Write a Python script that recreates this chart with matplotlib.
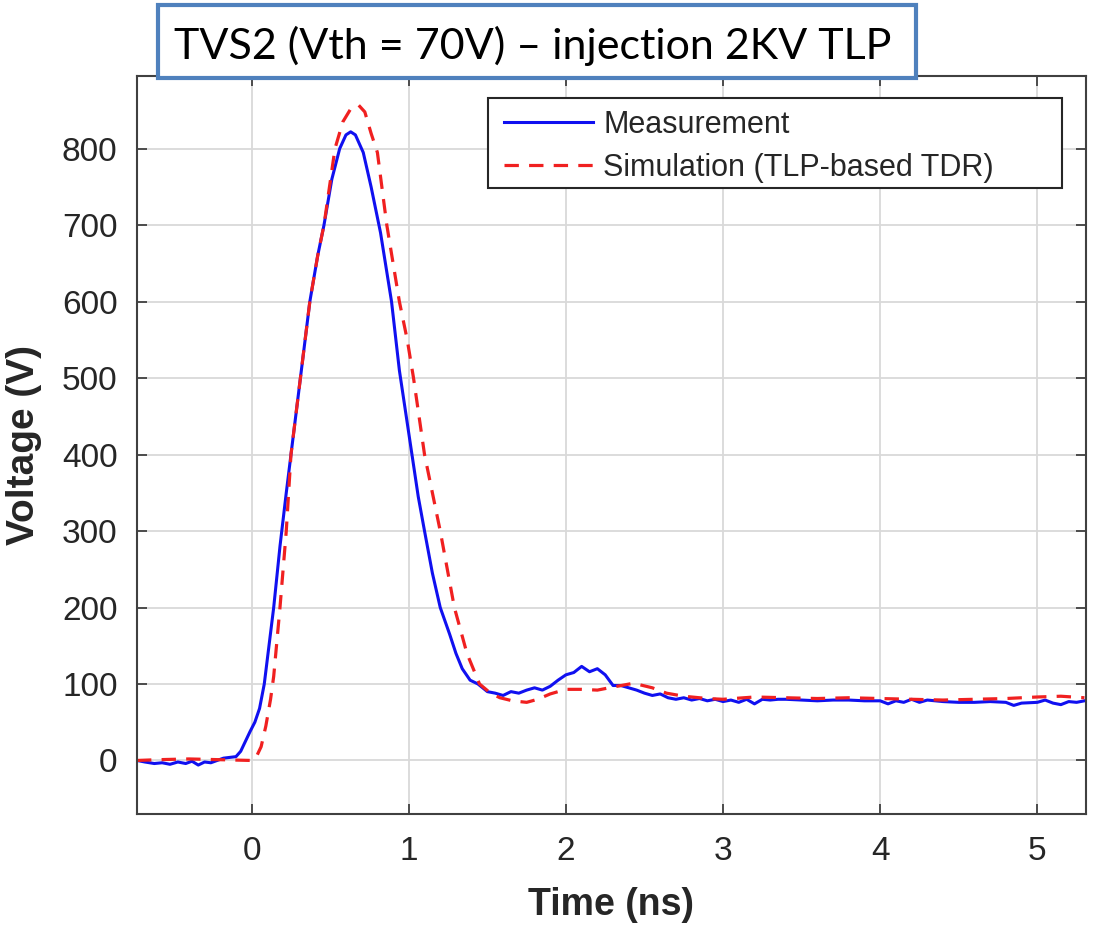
import matplotlib
matplotlib.use("Agg")
import matplotlib.pyplot as plt
from matplotlib.patches import Rectangle

# Measurement (blue, solid)
meas_t = [-0.73, -0.68, -0.62, -0.57, -0.52, -0.47, -0.42, -0.38, -0.34, -0.30,
          -0.26, -0.22, -0.18, -0.14, -0.10, -0.07, -0.04, -0.01, 0.02, 0.05,
          0.08, 0.11, 0.14, 0.18, 0.22, 0.25, 0.31, 0.37, 0.42, 0.46,
          0.51, 0.56, 0.60, 0.63, 0.66, 0.71, 0.76, 0.82, 0.89, 0.94,
          0.98, 1.02, 1.06, 1.10, 1.15, 1.20, 1.26, 1.30, 1.34, 1.39,
          1.44, 1.50, 1.55, 1.60, 1.65, 1.70, 1.75, 1.80, 1.85, 1.90,
          1.95, 2.00, 2.05, 2.10, 2.15, 2.20, 2.25, 2.30, 2.35, 2.40,
          2.45, 2.50, 2.55, 2.60, 2.65, 2.70, 2.75, 2.80, 2.85, 2.90,
          2.95, 3.00, 3.05, 3.10, 3.15, 3.20, 3.25, 3.30, 3.35, 3.40,
          3.50, 3.60, 3.70, 3.80, 3.90, 4.00, 4.05, 4.10, 4.15, 4.20,
          4.25, 4.30, 4.40, 4.50, 4.60, 4.70, 4.80, 4.85, 4.90, 5.00,
          5.05, 5.10, 5.15, 5.20, 5.25, 5.30]
meas_v = [0, -2, -4, -3, -5, -2, -4, -1, -6, -2,
          -3, 0, 3, 4, 5, 12, 25, 38, 50, 68,
          100, 150, 200, 280, 350, 400, 500, 600, 660, 700,
          760, 800, 818, 822, 818, 795, 750, 690, 600, 510,
          455, 400, 345, 300, 245, 200, 165, 140, 120, 105,
          100, 90, 88, 85, 90, 88, 92, 95, 92, 97,
          105, 112, 115, 123, 116, 120, 112, 98, 98, 95,
          92, 88, 85, 87, 82, 80, 82, 79, 81, 78,
          80, 77, 79, 76, 80, 74, 80, 79, 80, 80,
          79, 78, 79, 79, 78, 78, 74, 78, 76, 80,
          76, 79, 77, 76, 76, 77, 76, 72, 75, 76,
          79, 75, 73, 77, 76, 78]

# Simulation (red, dashed)
sim_t = [-0.73, -0.6, -0.4, -0.2, 0.0, 0.03, 0.06, 0.09, 0.12, 0.14,
         0.18, 0.22, 0.25, 0.31, 0.37, 0.42, 0.46, 0.53, 0.58, 0.63,
         0.68, 0.72, 0.76, 0.80, 0.86, 0.94, 0.99, 1.03, 1.10, 1.20,
         1.29, 1.37, 1.45, 1.52, 1.58, 1.66, 1.75, 1.82, 1.90, 2.00,
         2.10, 2.20, 2.30, 2.43, 2.55, 2.64, 2.75, 2.90, 3.0, 3.2,
         3.4, 3.6, 3.8, 4.0, 4.2, 4.4, 4.6, 4.8, 5.0, 5.15, 5.3]
sim_v = [0, 1, 2, 1, 0, 5, 18, 45, 80, 110,
         200, 300, 400, 500, 600, 660, 700, 800, 835, 852,
         857, 848, 820, 795, 700, 600, 550, 500, 400, 300,
         200, 140, 100, 88, 82, 78, 76, 80, 87, 93,
         93, 92, 96, 101, 95, 88, 84, 81, 80, 83,
         82, 81, 82, 81, 80, 79, 80, 81, 83, 84, 82]

xticks = [0, 1, 2, 3, 4, 5]
yticks = [0, 100, 200, 300, 400, 500, 600, 700, 800]

txt = '#262626'
plt.rcParams['font.family'] = ['Liberation Sans', 'DejaVu Sans']

fig = plt.figure(figsize=(10.93, 9.26), dpi=100)
ax = fig.add_axes([137/1093, 1-814/926, (1086-137)/1093, (814-76)/926])

ax.plot(meas_t, meas_v, color='#1010F0', lw=2.2, label='Measurement')
ax.plot(sim_t, sim_v, color='#F02020', lw=2.3, ls=(0, (4.5, 3.2)),
        label='Simulation (TLP-based TDR)')

ax.set_xlim(-0.73, 5.31)
ax.set_ylim(-70, 895)
ax.set_xticks(xticks)
ax.set_yticks(yticks)
ax.grid(True, color='#d9d9d9', lw=1.3)
ax.set_axisbelow(True)
ax.tick_params(direction='in', length=7, width=1.3, colors='#404040',
               labelcolor=txt, labelsize=24, top=True, right=True)
ax.tick_params(axis='x', pad=16)
ax.tick_params(axis='y', pad=14)
for s in ax.spines.values():
    s.set_color('#404040')
    s.set_linewidth(1.5)

ax.set_xlabel('Time (ns)', fontsize=27, fontweight='bold', color=txt, labelpad=14)
ax.set_ylabel('Voltage (V)', fontsize=28, fontweight='bold', color=txt, labelpad=14)

# legend: MATLAB style box with extra room on the right
ax.add_patch(Rectangle((488/1093, 1-188/926), 574/1093, 90/926,
                       transform=fig.transFigure, facecolor='white',
                       edgecolor='#262626', lw=1.5, zorder=4))
leg = ax.legend(loc='upper left', bbox_to_anchor=(504/1093, 1-110/926),
                bbox_transform=fig.transFigure, fontsize=22,
                frameon=False, handlelength=2.9, borderpad=0,
                borderaxespad=0, labelspacing=0.42, handletextpad=0.35)
leg.set_zorder(5)
for t in leg.get_texts():
    t.set_color(txt)

# title box overlapping the top of the axes
fig.patches.append(Rectangle((158/1093, 1-78/926), 758/1093, 73/926,
                             transform=fig.transFigure, facecolor='white',
                             edgecolor='#4F81BD', lw=3, zorder=10))
fig.text(533/1093, 1-46/926, 'TVS2 (Vth = 70V) \u2013 injection 2KV TLP',
         ha='center', va='center', fontsize=31, family=['Lato', 'DejaVu Sans'],
         color='black', zorder=11)

fig.savefig('out.png', dpi=100)
